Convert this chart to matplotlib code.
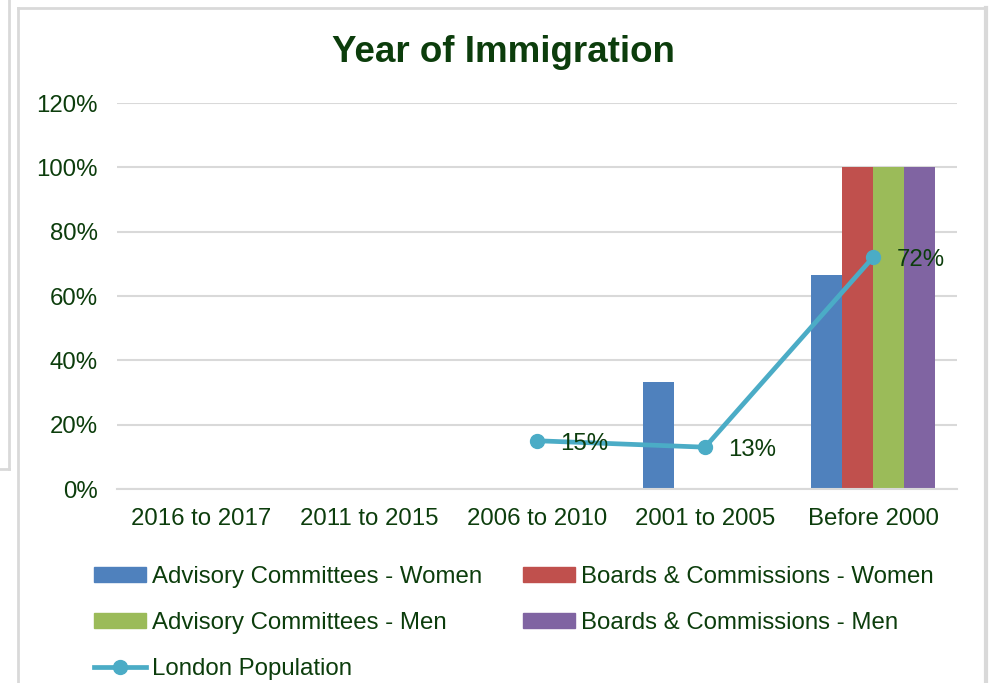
import matplotlib
matplotlib.use("Agg")
import matplotlib.pyplot as plt
from matplotlib.lines import Line2D
from matplotlib.patches import Patch
import numpy as np

plt.rcParams['font.family'] = ['Liberation Sans', 'DejaVu Sans']

categories = ["2016 to 2017", "2011 to 2015", "2006 to 2010", "2001 to 2005", "Before 2000"]
advisory_women = [0, 0, 0, 1/3, 2/3]
boards_women = [0, 0, 0, 0, 1.0]
advisory_men = [0, 0, 0, 0, 1.0]
boards_men = [0, 0, 0, 0, 1.0]
london_population = [None, None, 0.15, 0.13, 0.72]

series_names = ["Advisory Committees - Women", "Boards & Commissions - Women",
                "Advisory Committees - Men", "Boards & Commissions - Men"]
series_colors = ["#4F81BD", "#C0504D", "#9BBB59", "#8064A2"]
line_color = "#4BACC6"
text_color = "#0C3D0C"
grid_color = "#D9D9D9"
fs = 17.3

W, H = 992, 683
fig = plt.figure(figsize=(W / 100, H / 100), dpi=100)

# Chart frame lines
frame_kw = dict(color=grid_color, lw=2, transform=fig.transFigure, zorder=0)
fig.add_artist(Line2D([18 / W, 18 / W], [0, 1 - 8 / H], **frame_kw))
fig.add_artist(Line2D([18 / W, 986 / W], [1 - 8 / H, 1 - 8 / H], **frame_kw))
fig.add_artist(Line2D([986 / W, 986 / W], [0, 1 - 8 / H], color=grid_color, lw=3,
                      transform=fig.transFigure, zorder=0))
fig.add_artist(Line2D([8.5 / W, 8.5 / W], [1 - 469 / H, 1], **frame_kw))
fig.add_artist(Line2D([0, 8.5 / W], [1 - 469 / H, 1 - 469 / H], **frame_kw))

ax = fig.add_axes([117 / W, 1 - 489 / H, (957 - 117) / W, (489 - 103) / H])

x = np.arange(len(categories))
bw = 0.1845
all_series = [advisory_women, boards_women, advisory_men, boards_men]
for i, (vals, name, col) in enumerate(zip(all_series, series_names, series_colors)):
    ax.bar(x + (i - 1.5) * bw, vals, width=bw, color=col, label=name, zorder=2)

lx = [xi for xi, v in zip(x, london_population) if v is not None]
ly = [v for v in london_population if v is not None]
ax.plot(lx, ly, color=line_color, lw=3.4, marker='o', markersize=10,
        solid_capstyle='round', zorder=3)
for xi, v in zip(lx, ly):
    ax.annotate(f"{v:.0%}", (xi, v), xytext=(17, -2), textcoords='offset points',
                ha='left', va='center', fontsize=fs, color=text_color, zorder=4)

ax.set_xlim(-0.5, len(categories) - 0.5)
ax.set_ylim(0, 1.2)
ax.set_yticks(np.arange(0, 1.21, 0.2))
ax.set_yticklabels([f"{int(round(t * 100))}%" for t in np.arange(0, 1.21, 0.2)])
ax.set_xticks(x)
ax.set_xticklabels(categories)
ax.tick_params(axis='both', length=0, labelsize=fs, labelcolor=text_color)
ax.tick_params(axis='y', pad=14)
ax.tick_params(axis='x', pad=14)
ax.yaxis.grid(True, color=grid_color, lw=1.5, zorder=0)
ax.set_axisbelow(True)
for s in ['top', 'right', 'left']:
    ax.spines[s].set_visible(False)
ax.spines['bottom'].set_color(grid_color)
ax.spines['bottom'].set_linewidth(1.5)

fig.text(503 / W, 1 - 52 / H, "Year of Immigration", ha='center', va='center',
         fontsize=26.5, fontweight='bold', color=text_color)

handles = [
    Patch(color=series_colors[0]),
    Patch(color=series_colors[2]),
    Line2D([], [], color=line_color, lw=3.4, marker='o', markersize=10),
    Patch(color=series_colors[1]),
    Patch(color=series_colors[3]),
]
labels = [series_names[0], series_names[2], "London Population",
          series_names[1], series_names[3]]
leg = fig.legend(handles, labels, ncol=2, loc='upper left',
                 bbox_to_anchor=(94 / W, 1 - 566 / H), frameon=False,
                 fontsize=fs, labelcolor=text_color, handlelength=2.15,
                 handleheight=0.55, handletextpad=0.25, columnspacing=1.72,
                 labelspacing=0.99, borderpad=0, borderaxespad=0)

fig.savefig("out.png", dpi=100)
